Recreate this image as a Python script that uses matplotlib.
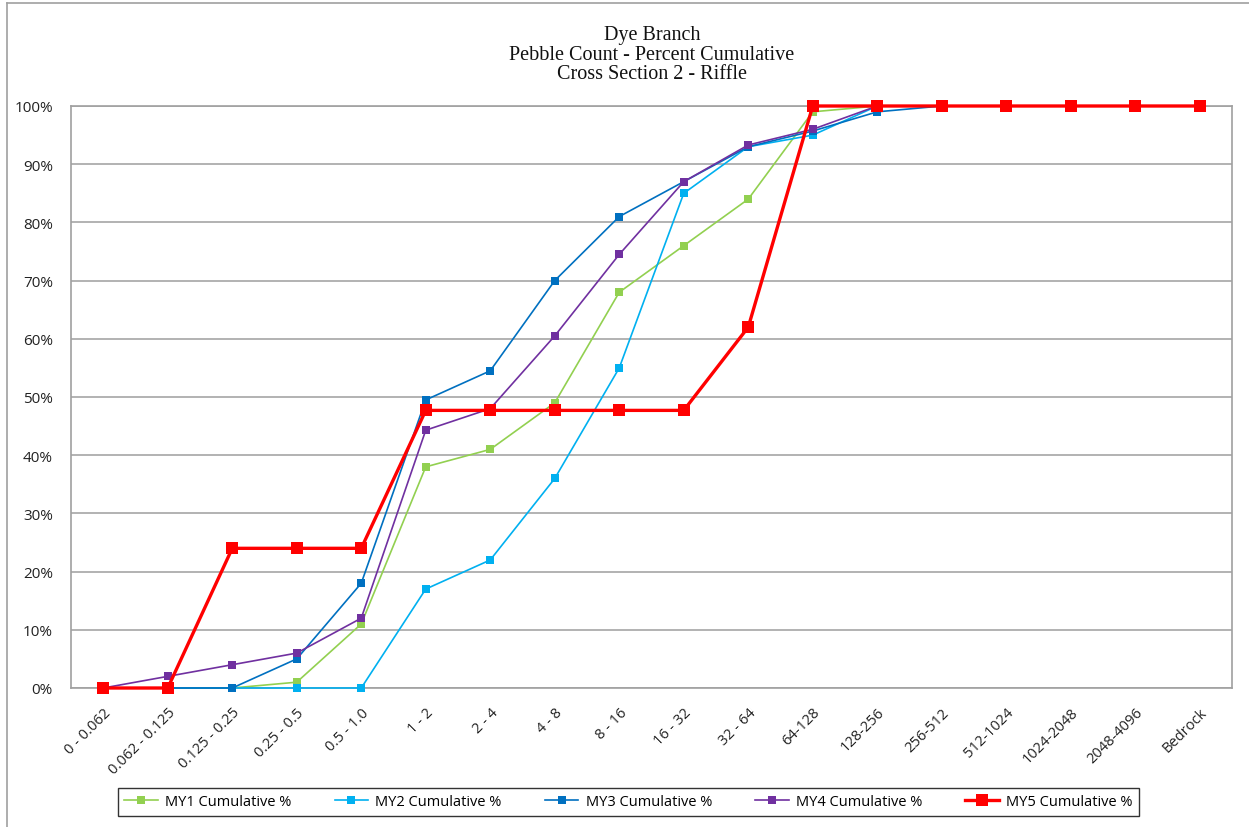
import matplotlib
matplotlib.use("Agg")
import matplotlib.pyplot as plt
from matplotlib.ticker import PercentFormatter
from matplotlib.lines import Line2D

categories = ["0 - 0.062", "0.062 - 0.125", "0.125 - 0.25", "0.25 - 0.5", "0.5 - 1.0",
              "1 - 2", "2 - 4", "4 - 8", "8 - 16", "16 - 32", "32 - 64", "64-128",
              "128-256", "256-512", "512-1024", "1024-2048", "2048-4096", "Bedrock"]

my1 = [0, 0, 0, 1, 11, 38, 41, 49, 68, 76, 84, 99, 100, 100, 100, 100, 100, 100]
my2 = [0, 0, 0, 0, 0, 17, 22, 36, 55, 85, 93, 95, 100, 100, 100, 100, 100, 100]
my3 = [0, 0, 0, 5, 18, 49.5, 54.5, 70, 81, 87, 93, 95.7, 99, 100, 100, 100, 100, 100]
my4 = [0, 2, 4, 6, 12, 44.3, 48, 60.5, 74.5, 87, 93.3, 96, 100, 100, 100, 100, 100, 100]
my5 = [0, 0, 24, 24, 24, 47.7, 47.7, 47.7, 47.7, 47.7, 62, 100, 100, 100, 100, 100, 100, 100]

series_names = ["MY1 Cumulative %", "MY2 Cumulative %", "MY3 Cumulative %",
                "MY4 Cumulative %", "MY5 Cumulative %"]
series_values = [my1, my2, my3, my4, my5]
colors = ["#92D050", "#00B0F0", "#0070C0", "#7030A0", "#FF0000"]

W, H = 1249, 828
fig = plt.figure(figsize=(W / 100, H / 100), dpi=100)
ax = fig.add_axes([71 / W, 1 - 689 / H, (1232 - 71) / W, (689 - 107) / H])

x = list(range(len(categories)))
handles = []
for name, vals, c in zip(series_names, series_values, colors):
    if name.startswith("MY5"):
        lw, ms = 2.4, 9
    else:
        lw, ms = 1.2, 5.8
    ax.plot(x, vals, color=c, lw=lw, marker="s", ms=ms, mew=0, label=name,
            clip_on=False, zorder=3)
    handles.append(Line2D([0], [0], color=c, lw=lw, marker="s", ms=ms, mew=0))

ax.set_xlim(-0.5, len(categories) - 0.5)
ax.set_ylim(0, 100)
ax.set_yticks(range(0, 101, 10))
ax.yaxis.set_major_formatter(PercentFormatter(decimals=0))
ax.set_xticks(x)
ax.set_xticklabels(categories, rotation=45, ha="right", rotation_mode="anchor",
                   fontsize=10.5, family="Open Sans")
for lbl in ax.get_yticklabels():
    lbl.set_fontsize(11)
    lbl.set_family("Open Sans")
ax.tick_params(axis="both", length=0, colors="#222222")
ax.tick_params(axis="y", pad=13)
ax.tick_params(axis="x", pad=12)
ax.grid(axis="y", color="#A6A6A6", lw=1.2)
ax.set_axisbelow(True)
for s in ax.spines.values():
    s.set_color("#A0A0A0")
    s.set_linewidth(1.2)

fig.text(652 / W, 1 - 55 / H, "Dye Branch\nPebble Count - Percent Cumulative\nCross Section 2 - Riffle",
         ha="center", va="center", fontsize=14.5, family="Liberation Serif",
         linespacing=1.07, color="#111111")

leg = fig.legend(handles, series_names, loc="center", bbox_to_anchor=(628.5 / W, 1 - 803 / H),
                 ncol=5, frameon=True, fancybox=False, edgecolor="black",
                 prop={"family": "Open Sans", "size": 10.5}, handlelength=2.3,
                 columnspacing=2.95, borderpad=0.45, handletextpad=0.5)
leg.get_frame().set_linewidth(1.0)

# chart border (left and top visible)
fig.add_artist(Line2D([7 / W, 7 / W], [0, 1 - 4 / H], transform=fig.transFigure,
                      color="#A0A0A0", lw=1.2))
fig.add_artist(Line2D([7 / W, 1], [1 - 4 / H, 1 - 4 / H], transform=fig.transFigure,
                      color="#A0A0A0", lw=1.2))

fig.savefig("out.png", dpi=100)
